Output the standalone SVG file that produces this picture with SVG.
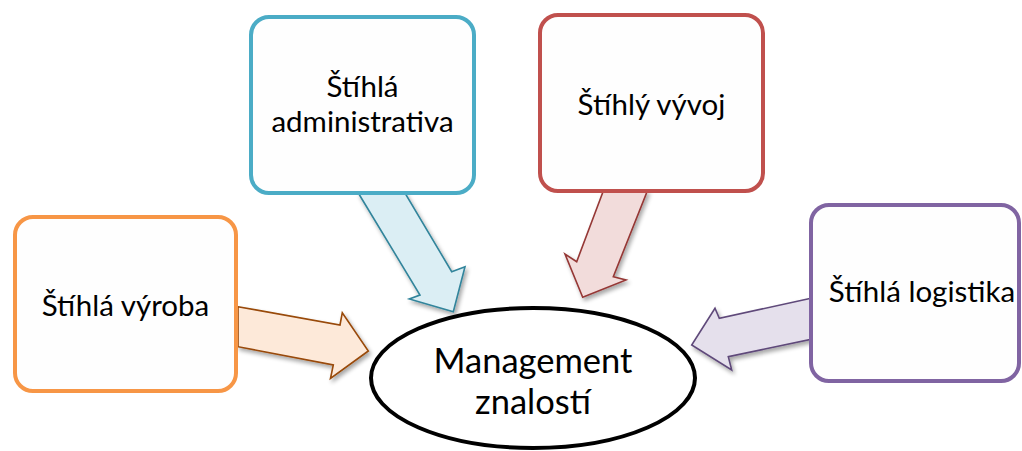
<svg xmlns="http://www.w3.org/2000/svg" width="1022" height="451" viewBox="0 0 1022 451">
  <defs>
    <filter id="shadow" x="-20%" y="-20%" width="150%" height="150%">
      <feGaussianBlur in="SourceAlpha" stdDeviation="2"/>
      <feOffset dx="2" dy="3" result="blur"/>
      <feComponentTransfer><feFuncA type="linear" slope="0.35"/></feComponentTransfer>
      <feMerge><feMergeNode/><feMergeNode in="SourceGraphic"/></feMerge>
    </filter>
  </defs>
  <style>
    .box { fill: #fefefe; stroke-width: 4; }
    .arrow { stroke-width: 1.6; stroke-linejoin: miter; filter: url(#shadow); }
    .label { font-family: Lato, "Open Sans", "Liberation Sans", sans-serif; font-size: 29.5px; fill: #000; text-anchor: middle; }
    .center-label { font-size: 34.5px; }
  </style>
  <rect width="1022" height="451" fill="#ffffff"/>

  <!-- block arrows pointing at the central ellipse -->
  <g id="connectors">
    <polygon class="arrow" fill="#fde9d9" stroke="#984807" points="238,306.7 340,325 342.3,312.7 368.3,351 330.5,378.3 333.3,365 238,346.7"/>
    <polygon class="arrow" fill="#dbeef4" stroke="#31849b" points="358.3,193 420,295 409.3,299 453.3,311.7 465,266.7 451.7,271.7 405,193"/>
    <polygon class="arrow" fill="#f2dcdb" stroke="#953735" points="603.3,191 576.7,261.7 565,254 582.7,297.3 626,280 613.3,276.7 647.3,191"/>
    <polygon class="arrow" fill="#e5e0ec" stroke="#5f497a" points="811,298.3 719.3,318.3 715,308.3 691.7,345 731.7,370 728.3,356.7 811,339.3"/>
  </g>

  <g id="node-vyroba">
    <rect class="box" x="15" y="217" width="221" height="174" rx="18" stroke="#f79646"/>
    <text class="label" x="125.5" y="316">Štíhlá výroba</text>
  </g>

  <g id="node-administrativa">
    <rect class="box" x="251" y="17" width="223" height="176" rx="18" stroke="#4bacc6"/>
    <text class="label" x="362.5" y="97">Štíhlá</text>
    <text class="label" x="362.5" y="132">administrativa</text>
  </g>

  <g id="node-vyvoj">
    <rect class="box" x="540" y="15" width="223" height="176" rx="18" stroke="#c0504d"/>
    <text class="label" x="651.5" y="115">Štíhlý vývoj</text>
  </g>

  <g id="node-logistika">
    <rect class="box" x="811" y="205" width="208" height="176" rx="18" stroke="#8064a2"/>
    <text class="label" x="922" y="302">Štíhlá logistika</text>
  </g>

  <g id="node-management">
    <ellipse cx="533" cy="378" rx="162" ry="70" fill="#ffffff" stroke="#000000" stroke-width="4"/>
    <text class="label center-label" x="533" y="373">Management</text>
    <text class="label center-label" x="533" y="414">znalostí</text>
  </g>
</svg>
